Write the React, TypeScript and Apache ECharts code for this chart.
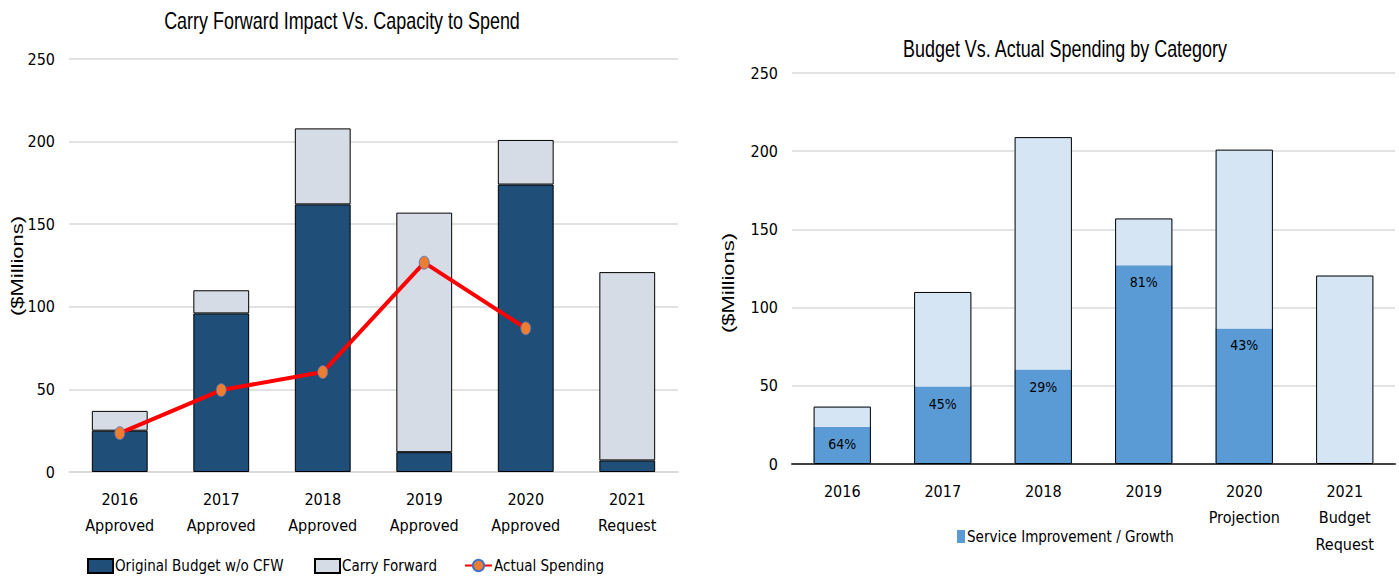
import React, { useEffect, useRef } from "react";
import * as echarts from "echarts";

const leftCategories = ["2016\nApproved", "2017\nApproved", "2018\nApproved", "2019\nApproved", "2020\nApproved", "2021\nRequest"];
const originalBudget = [25, 96, 162, 12, 174, 7];
const carryForward = [12, 14, 46, 145, 27, 114];
const actualSpending: (number | null)[] = [23.5, 49.6, 60.5, 126.7, 87, null];

const rightCategories = ["2016", "2017", "2018", "2019", "2020\nProjection", "2021\nBudget\nRequest"];
const serviceGrowth = [23.7, 49.5, 60.4, 127, 86.7, 0];
const remainingBudget = [13, 60.5, 148.6, 30, 114.3, 120.5];
const growthLabels = ["64%", "45%", "29%", "81%", "43%", ""];
const yTicks = [0, 50, 100, 150, 200, 250];

const leftTitle = "Carry Forward Impact Vs. Capacity to Spend";
const rightTitle = "Budget Vs. Actual Spending by Category";
const yName = "($Millions)";

const NARROW = "'Liberation Sans Narrow', 'DejaVu Sans Condensed', Arial, sans-serif";
const ARIAL = "'Liberation Sans', Arial, sans-serif";

export default function App() {
  const ref = useRef<HTMLDivElement>(null);
  useEffect(() => {
    document.body.style.margin = "0";
    const chart = echarts.init(ref.current!, null, { renderer: "svg" });
    const totals = serviceGrowth.map((v, i) => v + remainingBudget[i]);
    const yAxisBase = (gridIndex: number) => ({
      type: "value" as const,
      gridIndex,
      min: yTicks[0],
      max: yTicks[yTicks.length - 1],
      interval: 50,
      axisLabel: { fontFamily: NARROW, fontSize: 16, color: "#000", margin: 14 },
      axisLine: { show: false },
      axisTick: { show: false },
      splitLine: { lineStyle: { color: "#D9D9D9", width: 1.5 } },
    });
    const legendText = { fontFamily: NARROW, fontSize: 15, color: "#000", padding: [0, 0, 0, -3] };
    const squishText = (text: string, x: number, y: number, size: number, sx: number) => ({
      type: "text", x, y, scaleX: sx, silent: true,
      style: { text, font: `${size}px ${ARIAL}`, fill: "#000", textAlign: "center", textVerticalAlign: "middle" },
    });
    const yNameText = (x: number, y: number) => ({
      type: "text", x, y, rotation: Math.PI / 2, scaleY: 0.72, silent: true,
      style: { text: yName, font: `22px ${ARIAL}`, fill: "#000", textAlign: "center", textVerticalAlign: "middle" },
    });
    chart.setOption({
      animation: false,
      textStyle: { fontFamily: NARROW },
      graphic: [
        squishText(leftTitle, 342, 21, 23, 0.78),
        squishText(rightTitle, 1065, 49, 23, 0.78),
        yNameText(18, 266),
        yNameText(729, 283),
      ],
      legend: [
        { data: [{ name: "Original Budget w/o CFW", icon: "rect" }], left: 87, top: 558, padding: 0,
          itemWidth: 25, itemHeight: 14, textStyle: legendText },
        { data: [{ name: "Carry Forward", icon: "rect" }], left: 314, top: 558, padding: 0,
          itemWidth: 25, itemHeight: 14, textStyle: legendText },
        { data: ["Actual Spending"], left: 464, top: 558, padding: 0,
          itemWidth: 27, itemHeight: 14, textStyle: legendText },
        { data: [{ name: "Service Improvement / Growth", icon: "rect" }], left: 957, top: 529, padding: 0,
          itemWidth: 8, itemHeight: 13, itemStyle: { borderWidth: 0 }, textStyle: legendText },
      ],
      grid: [
        { left: 69, top: 59, width: 609, height: 413 },
        { left: 792, top: 73, width: 603, height: 391 },
      ],
      xAxis: [
        { type: "category", gridIndex: 0, data: leftCategories,
          axisLine: { lineStyle: { color: "#D9D9D9", width: 1.5 } }, axisTick: { show: false },
          axisLabel: { interval: 0, fontFamily: NARROW, fontSize: 16, color: "#000", lineHeight: 26, margin: 14 } },
        { type: "category", gridIndex: 1, data: rightCategories,
          axisLine: { lineStyle: { color: "#404040", width: 2 } }, axisTick: { show: false },
          axisLabel: { interval: 0, fontFamily: NARROW, fontSize: 16, color: "#000", lineHeight: 26.5, margin: 14 } },
      ],
      yAxis: [yAxisBase(0), yAxisBase(1)],
      series: [
        { name: "Original Budget w/o CFW", type: "bar", stack: "L", xAxisIndex: 0, yAxisIndex: 0,
          data: originalBudget, barWidth: "55%",
          itemStyle: { color: "#1F4E79", borderColor: "#000", borderWidth: 1 } },
        { name: "Carry Forward", type: "bar", stack: "L", xAxisIndex: 0, yAxisIndex: 0,
          data: carryForward, barWidth: "55%",
          itemStyle: { color: "#D6DCE5", borderColor: "#000", borderWidth: 1 } },
        { name: "Actual Spending", type: "line", xAxisIndex: 0, yAxisIndex: 0, data: actualSpending,
          symbol: "circle", symbolSize: [10, 13], z: 5,
          lineStyle: { color: "#FF0000", width: 4 },
          itemStyle: { color: "#ED7D31", borderColor: "#4472C4", borderWidth: 0.8 } },
        { name: "Service Improvement / Growth", type: "bar", stack: "R", xAxisIndex: 1, yAxisIndex: 1,
          data: serviceGrowth.map((v, i) => ({ value: v, label: { formatter: growthLabels[i] } })),
          barWidth: "57%",
          itemStyle: { color: "#5B9BD5", borderWidth: 0 },
          label: { show: true, position: "insideTop", distance: 10, fontFamily: NARROW, fontSize: 14, color: "#000" } },
        { name: "Remaining", type: "bar", stack: "R", xAxisIndex: 1, yAxisIndex: 1,
          data: remainingBudget, barWidth: "57%",
          itemStyle: { color: "#D6E5F4", borderWidth: 0 } },
        { name: "Outline", type: "bar", xAxisIndex: 1, yAxisIndex: 1, data: totals, barWidth: "57%",
          barGap: "-100%", z: 3, silent: true,
          itemStyle: { color: "rgba(0,0,0,0)", borderColor: "#000", borderWidth: 1 } },
      ],
    });
    return () => chart.dispose();
  }, []);
  return <div ref={ref} style={{ width: 1399, height: 577, position: "absolute", left: 0, top: 0 }} />;
}
